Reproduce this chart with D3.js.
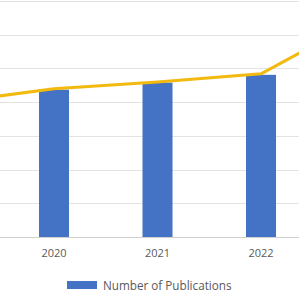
<!DOCTYPE html>
<html>
<head>
<meta charset="utf-8">
<script src="https://cdn.jsdelivr.net/npm/d3@7"></script>
<style>
  body { margin: 0; background: #fff; }
  svg { display: block; font-family: "Open Sans", "Noto Sans", sans-serif; }
</style>
</head>
<body>
<svg width="299" height="293"></svg>
<script>
// chart data (only part of the chart is in view)
let years = ["2019", "2020", "2021", "2022", "2023"];
let publications = [395, 437, 458, 481, 640];
let trend = [399, 440, 460, 484, 650];
let yTicks = [0, 100, 200, 300, 400, 500, 600, 700];
let legendLabel = "Number of Publications";

let svg = d3.select("svg"),
	width = 299,
	baseY = 237,
	topY = 1;

let x = d3.scaleBand()
	.domain(years)
	.range([-101.25, 416.25])
	.paddingInner(0.71)
	.paddingOuter(0.355);

let y = d3.scaleLinear()
	.domain([0, 700])
	.range([baseY, topY]);

// gridlines
svg.append("g").attr("class", "grid")
	.selectAll("line")
	.data(yTicks)
	.enter().append("line")
		.attr("x1", 0)
		.attr("x2", width)
		.attr("y1", d => Math.round(y(d)) + 0.5)
		.attr("y2", d => Math.round(y(d)) + 0.5)
		.attr("stroke", d => d == 0 ? "#d0d0d0" : "#e3e3e3")
		.attr("stroke-width", 1);

// bars
svg.append("g").attr("class", "bars")
	.selectAll("rect")
	.data(years)
	.enter().append("rect")
		.attr("x", d => x(d))
		.attr("width", x.bandwidth())
		.attr("y", (d, i) => y(publications[i]))
		.attr("height", (d, i) => baseY - y(publications[i]))
		.attr("fill", "#4472c4");

// line
let line = d3.line()
	.x((d, i) => x(years[i]) + x.bandwidth() / 2)
	.y(d => y(d));

svg.append("path")
	.datum(trend)
	.attr("d", line)
	.attr("fill", "none")
	.attr("stroke", "#f2b90f")
	.attr("stroke-width", 3)
	.attr("stroke-linejoin", "round");

// x axis labels, only the years whose label is in view
let shown = years.filter(d => x(d) > 0 && x(d) + x.bandwidth() < width);
let xAxis = d3.axisBottom(x).tickValues(shown).tickSize(0).tickPadding(12);
let gx = svg.append("g")
	.attr("transform", "translate(0," + baseY + ")")
	.call(xAxis);
gx.select(".domain").remove();
gx.selectAll("text")
	.attr("fill", "#595959")
	.style("font-size", "11px")
	.style("font-family", "'Open Sans', 'Noto Sans', sans-serif");

// legend
let legend = svg.append("g").attr("transform", "translate(67,281)");
legend.append("rect")
	.attr("width", 30)
	.attr("height", 8)
	.attr("fill", "#4472c4");
legend.append("text")
	.attr("x", 36)
	.attr("y", 8.5)
	.attr("fill", "#595959")
	.style("font-size", "11.7px")
	.text(legendLabel);
</script>
</body>
</html>
